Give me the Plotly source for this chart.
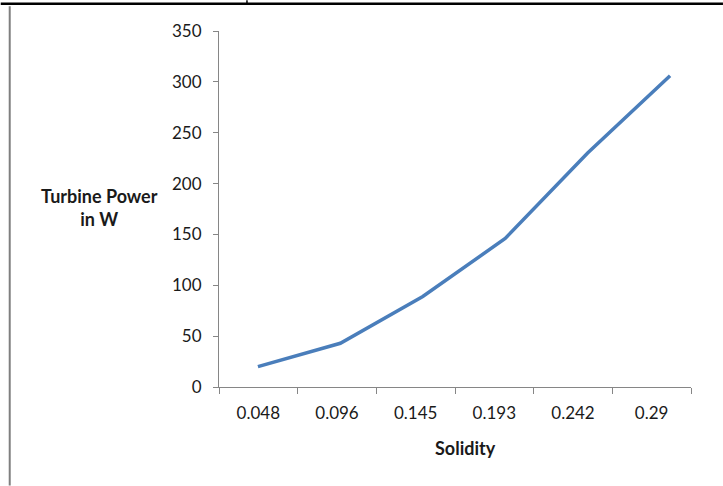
import plotly.graph_objects as go

solidity = ["0.048", "0.096", "0.145", "0.193", "0.242", "0.29"]
power_w = [20, 43, 89, 146, 230, 306]

W, H = 723, 486
# plot area in reference pixel coordinates
X0, X1, Y0, Y1 = 218.5, 691, 30.7, 387.3
L, R, T, B = X0, W - X1, Y0, H - Y1
pw = W - L - R
ph = H - T - B

def px(x):
    return (x - L) / pw

def py(y):
    return (H - B - y) / ph

fig = go.Figure()
fig.add_trace(go.Scatter(
    x=solidity, y=power_w, mode="lines", xaxis="x2",
    line=dict(color="#4a7ebb", width=3.5), showlegend=False,
    hoverinfo="x+y",
))
fig.add_trace(go.Scatter(x=solidity, y=[None] * len(solidity), mode="lines",
                         showlegend=False, hoverinfo="skip"))

font_family = "Lato, 'Open Sans', sans-serif"
fig.update_layout(
    width=W, height=H,
    margin=dict(l=L, r=R, t=T, b=B),
    paper_bgcolor="white", plot_bgcolor="white",
    font=dict(family=font_family, color="#1a1a1a", size=17),
    xaxis=dict(
        type="category", range=[-0.5, 5.5], tickson="boundaries",
        ticks="outside", ticklen=6, tickcolor="#868686",
        showline=True, linecolor="#868686", linewidth=1,
        showgrid=False, zeroline=False, ticklabelstandoff=11,
        tickfont=dict(size=17, color="#1a1a1a"),
    ),
    xaxis2=dict(
        type="category", overlaying="x", visible=False,
        range=[-0.472, 5.254],
    ),
    yaxis=dict(
        range=[0, 350], dtick=50, ticks="outside", ticklen=5,
        tickcolor="#868686", showline=True, linecolor="#868686",
        linewidth=1, showgrid=False, zeroline=False,
        ticklabelstandoff=8, tickfont=dict(size=17, color="#1a1a1a"),
    ),
    annotations=[
        dict(text="<b>Turbine Power<br>in W</b>", xref="paper", yref="paper",
             x=px(99), y=py(207), xanchor="center", yanchor="middle",
             showarrow=False,
             font=dict(size=18, family=font_family, color="#1a1a1a"),
             align="center"),
        dict(text="<b>Solidity</b>", xref="paper", yref="paper",
             x=px(465), y=py(448), xanchor="center", yanchor="middle",
             showarrow=False,
             font=dict(size=18, family=font_family, color="#1a1a1a")),
    ],
    shapes=[
        dict(type="line", xref="paper", yref="paper",
             x0=px(0), x1=px(723), y0=py(3.5), y1=py(3.5),
             line=dict(color="black", width=2.5)),
        dict(type="line", xref="paper", yref="paper",
             x0=px(246.5), x1=px(246.5), y0=py(0), y1=py(4),
             line=dict(color="black", width=1.5)),
        dict(type="line", xref="paper", yref="paper",
             x0=px(9), x1=px(9), y0=py(6), y1=py(486),
             line=dict(color="#7f7f7f", width=2)),
    ],
)

fig.write_html(
    "out.html",
    config={"displayModeBar": False},
    post_script="document.body.style.margin='0';"
                "document.body.style.overflow='hidden';",
)
